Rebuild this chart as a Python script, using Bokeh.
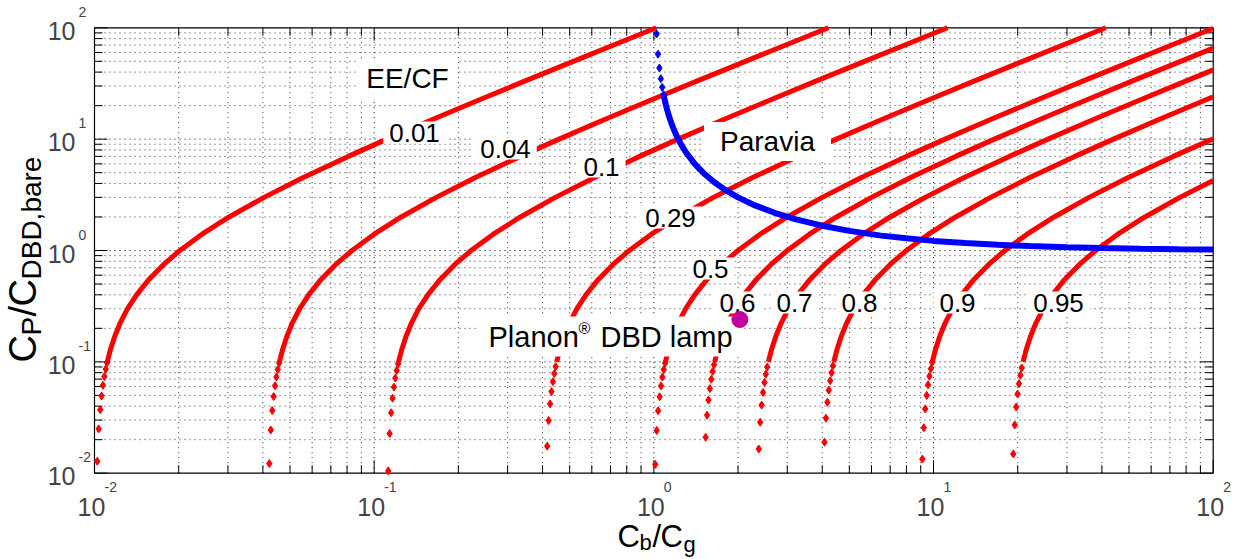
import math
from bokeh.plotting import figure
from bokeh.models import Label
from bokeh.embed import file_html
from bokeh.resources import INLINE

# ---------------- data ----------------
ee_labels = ["0.01", "0.04", "0.1", "0.29", "0.5", "0.6", "0.7", "0.8", "0.9", "0.95"]

ee001_x = [0.01023, 0.01035, 0.01048, 0.0106, 0.01072, 0.01085, 0.01097, 0.01109,
           0.01111, 0.01141, 0.01182, 0.01232, 0.01313, 0.01414, 0.01566, 0.01768, 0.0202, 0.02424,
           0.0303, 0.0404, 0.05555, 0.0808, 0.1111, 0.1616, 0.2323, 0.3434, 0.5151, 0.7676, 1.0201]
ee001_y = [0.0128, 0.025, 0.0372, 0.0494, 0.0616, 0.0738, 0.086, 0.0982,
           0.1, 0.13, 0.17, 0.22, 0.3, 0.4, 0.55, 0.75, 1, 1.4, 2, 3, 4.5, 7, 10, 15, 22, 33, 50, 75, 100]

ee004_x = [0.04218, 0.04269, 0.0432, 0.0437, 0.04421, 0.04472, 0.04523, 0.04574,
           0.04583, 0.04708, 0.04875, 0.05083, 0.05417, 0.05833, 0.06458, 0.07292, 0.08333, 0.1,
           0.125, 0.1667, 0.2292, 0.3333, 0.4583, 0.6667, 0.9583, 1.417, 2.125, 3.167, 4.208]
ee004_y = [0.0122, 0.0244, 0.0366, 0.0488, 0.061, 0.0732, 0.0854, 0.0976,
           0.1, 0.13, 0.17, 0.22, 0.3, 0.4, 0.55, 0.75, 1, 1.4, 2, 3, 4.5, 7, 10, 15, 22, 33, 50, 75, 100]

ee01_x = [0.1123, 0.1136, 0.115, 0.1163, 0.1177, 0.119, 0.1204, 0.1218,
          0.1222, 0.1256, 0.13, 0.1356, 0.1444, 0.1556, 0.1722, 0.1944, 0.2222, 0.2667,
          0.3333, 0.4444, 0.6111, 0.8889, 1.222, 1.778, 2.556, 3.778, 5.667, 8.444, 11.22]
ee01_y = [0.0105, 0.0227, 0.0349, 0.0471, 0.0593, 0.0715, 0.0837, 0.0959,
          0.1, 0.13, 0.17, 0.22, 0.3, 0.4, 0.55, 0.75, 1, 1.4, 2, 3, 4.5, 7, 10, 15, 22, 33, 50, 75, 100]

ee029_x = [0.4156, 0.4206, 0.4256, 0.4306, 0.4356, 0.4406, 0.4456,
           0.4493, 0.4616, 0.4779, 0.4983, 0.531, 0.5719, 0.6331, 0.7149, 0.817, 0.9804,
           1.2255, 1.634, 2.247, 3.268, 4.493, 6.536, 9.395, 13.89, 20.83, 31.05, 41.26]
ee029_y = [0.0175, 0.0297, 0.0419, 0.0541, 0.0663, 0.0785, 0.0907,
           0.1, 0.13, 0.17, 0.22, 0.3, 0.4, 0.55, 0.75, 1, 1.4, 2, 3, 4.5, 7, 10, 15, 22, 33, 50, 75, 100]

ee05_x = [1.012, 1.024, 1.036, 1.049, 1.061, 1.073, 1.085, 1.097,
          1.1, 1.13, 1.17, 1.22, 1.3, 1.4, 1.55, 1.75, 2, 2.4, 3, 4, 5.5, 8, 11, 16, 23, 34, 51, 76, 100]
ee05_y = [0.012, 0.0242, 0.0364, 0.0486, 0.0608, 0.073, 0.0852, 0.0974,
          0.1, 0.13, 0.17, 0.22, 0.3, 0.4, 0.55, 0.75, 1, 1.4, 2, 3, 4.5, 7, 10, 15, 22, 33, 50, 75, 99]

ee06_x = [1.532, 1.55, 1.568, 1.586, 1.605, 1.623, 1.641,
          1.65, 1.695, 1.755, 1.83, 1.95, 2.1, 2.325, 2.625, 3, 3.6, 4.5, 6, 8.25, 12, 16.5, 24,
          34.5, 51, 76.5, 100]
ee06_y = [0.021, 0.0332, 0.0454, 0.0576, 0.0698, 0.082, 0.0942,
          0.1, 0.13, 0.17, 0.22, 0.3, 0.4, 0.55, 0.75, 1, 1.4, 2, 3, 4.5, 7, 10, 15, 22, 33, 50, 65.7]

ee07_x = [2.372, 2.4, 2.429, 2.457, 2.486, 2.514, 2.543,
          2.567, 2.637, 2.73, 2.847, 3.033, 3.267, 3.617, 4.083, 4.667, 5.6, 7, 9.333, 12.83,
          18.67, 25.67, 37.33, 53.67, 79.33, 100]
ee07_y = [0.0165, 0.0287, 0.0409, 0.0531, 0.0653, 0.0775, 0.0897,
          0.1, 0.13, 0.17, 0.22, 0.3, 0.4, 0.55, 0.75, 1, 1.4, 2, 3, 4.5, 7, 10, 15, 22, 33, 41.9]

ee08_x = [4.076, 4.125, 4.174, 4.222, 4.271, 4.32, 4.369,
          4.4, 4.52, 4.68, 4.88, 5.2, 5.6, 6.2, 7, 8, 9.6, 12, 16, 22, 32, 44, 64, 92, 100]
ee08_y = [0.019, 0.0312, 0.0434, 0.0556, 0.0678, 0.08, 0.0922,
          0.1, 0.13, 0.17, 0.22, 0.3, 0.4, 0.55, 0.75, 1, 1.4, 2, 3, 4.5, 7, 10, 15, 22, 24]

ee09_x = [9.121, 9.23, 9.34, 9.45, 9.56, 9.67, 9.779, 9.889,
          9.9, 10.17, 10.53, 10.98, 11.7, 12.6, 13.95, 15.75, 18, 21.6, 27, 36, 49.5, 72, 100]
ee09_y = [0.0134, 0.0256, 0.0378, 0.05, 0.0622, 0.0744, 0.0866, 0.0988,
          0.1, 0.13, 0.17, 0.22, 0.3, 0.4, 0.55, 0.75, 1, 1.4, 2, 3, 4.5, 7, 10.1]

ee095_x = [19.28, 19.51, 19.75, 19.98, 20.21, 20.44, 20.67,
           20.9, 21.47, 22.23, 23.18, 24.7, 26.6, 29.45, 33.25, 38, 45.6, 57, 76, 100]
ee095_y = [0.0149, 0.0271, 0.0393, 0.0515, 0.0637, 0.0759, 0.0881,
           0.1, 0.13, 0.17, 0.22, 0.3, 0.4, 0.55, 0.75, 1, 1.4, 2, 3, 4.26]

paravia_x = [1.023, 1.035, 1.047, 1.059, 1.071, 1.083, 1.095, 1.11, 1.13, 1.16, 1.2, 1.25, 1.3,
             1.4, 1.5, 1.65, 1.8, 2, 2.3, 2.7, 3.2, 4, 5, 6.5, 8, 10, 13, 17, 22, 30, 40, 55, 75, 100]
paravia_y = [88, 58, 43.6, 34.9, 29.2, 25.1, 22.1, 19.2, 16.4, 13.5, 11, 9, 7.67,
             6, 5, 4.08, 3.5, 3, 2.54, 2.18, 1.91, 1.67, 1.5, 1.36, 1.29, 1.22, 1.17, 1.125, 1.095,
             1.069, 1.051, 1.037, 1.027, 1.02]

planon_x = [2.03]
planon_y = [0.24]

# axes: limits, decade ticks and their exponent labels
axis_min, axis_max = 0.01, 100
tick_values = [0.01, 0.1, 1, 10, 100]
tick_exponents = ["-2", "-1", "0", "1", "2"]
minor_multipliers = [2, 3, 4, 5, 6, 7, 8, 9]

curves_x = [ee001_x, ee004_x, ee01_x, ee029_x, ee05_x, ee06_x, ee07_x, ee08_x, ee09_x, ee095_x]
curves_y = [ee001_y, ee004_y, ee01_y, ee029_y, ee05_y, ee06_y, ee07_y, ee08_y, ee09_y, ee095_y]

# ---------------- layout (pixels of the 1234 x 559 page) ----------------
W, H = 1234, 559
BOX_L, BOX_R, BOX_T, BOX_B = 94.0, 1212.7, 27.3, 472.7
PX_DEC_X = (BOX_R - BOX_L) / 4.0
PX_DEC_Y = (BOX_B - BOX_T) / 4.0
x_start = 10 ** (-2 - BOX_L / PX_DEC_X)
x_end = 10 ** (2 + (W - BOX_R) / PX_DEC_X)
y_start = 10 ** (-2 - (H - BOX_B) / PX_DEC_Y)
y_end = 10 ** (2 + BOX_T / PX_DEC_Y)
FONT = "Liberation Sans"

p = figure(width=W, height=H, x_axis_type="log", y_axis_type="log",
           x_range=(x_start, x_end), y_range=(y_start, y_end),
           output_backend="svg", toolbar_location=None, title=None,
           min_border_left=0, min_border_right=0, min_border_top=0, min_border_bottom=0)
p.axis.visible = False
p.grid.visible = False
p.outline_line_color = None
p.background_fill_color = "white"
p.border_fill_color = "white"

# grid (dotted, at every decade and minor position)
grid_pos = []
for v in tick_values[:-1]:
    grid_pos += [m * v for m in [1] + minor_multipliers]
grid_pos.append(tick_values[-1])
maj_set = set(tick_values)
inner_min = [v for v in grid_pos[1:-1] if v not in maj_set]
inner_maj = [v for v in grid_pos[1:-1] if v in maj_set]
for pos, alpha in [(inner_min, 0.8), (inner_maj, 1.0)]:
    n = len(pos)
    p.segment(x0=pos, y0=[axis_min] * n, x1=pos, y1=[axis_max] * n,
              line_color="black", line_dash="1 4", line_alpha=alpha, line_width=1)
    p.segment(x0=[axis_min] * n, y0=pos, x1=[axis_max] * n, y1=pos,
              line_color="black", line_dash="1 4", line_alpha=alpha, line_width=1)

# ticks on all four sides (inward)
MAJ, MIN = 13, 8
for v in grid_pos:
    L = MAJ if v in maj_set else MIN
    fx = 10 ** (L / PX_DEC_X)
    fy = 10 ** (L / PX_DEC_Y)
    p.segment(x0=[v, v], y0=[axis_min, axis_max], x1=[v, v], y1=[axis_min * fy, axis_max / fy],
              line_color="black", line_width=1)
    p.segment(x0=[axis_min, axis_max], y0=[v, v], x1=[axis_min * fx, axis_max / fx], y1=[v, v],
              line_color="black", line_width=1)

# box
p.quad(left=[axis_min], right=[axis_max], bottom=[axis_min], top=[axis_max],
       fill_color=None, line_color="black", line_width=1.2)

RED = "#ff0000"
BLUE = "#0000ff"

# red EE/CF curves: sparse diamonds below 0.1, dense part as a thick line
for cx, cy in zip(curves_x, curves_y):
    dx = [x for x, y in zip(cx, cy) if y < 0.1]
    dy = [y for y in cy if y < 0.1]
    lx = [x for x, y in zip(cx, cy) if y >= 0.1]
    ly = [y for y in cy if y >= 0.1]
    p.line(lx, ly, line_color=RED, line_width=5)
    p.scatter(dx, dy, marker="diamond", size=8, fill_color=RED, line_color=RED, line_width=1)

# Paravia curve
p.line(paravia_x[5:], paravia_y[5:], line_color=BLUE, line_width=6)
p.scatter(paravia_x[:6], paravia_y[:6], marker="diamond", size=8, fill_color=BLUE, line_color=BLUE)

# Planon DBD lamp point (drawn above the label boxes)
dot = p.scatter(planon_x, planon_y, marker="circle", size=16, fill_color="#c4009c",
                line_color="#c4009c")
dot.level = "overlay"


def add_text(text, px, py, size, align="center", angle=0.0, bg=False, pad=None):
    lab = Label(x=px, y=H - py, x_units="screen", y_units="screen",
                text=text, text_font=FONT, text_font_size=f"{size}px",
                text_align=align, text_baseline="middle", angle=angle, text_color="black")
    if bg:
        lab.background_fill_color = "white"
        lab.background_fill_alpha = 1.0
        if pad is not None:
            lab.padding = pad
    p.add_layout(lab)
    return lab


# in-plot annotations (white boxes)
ann_pos = {"0.01": (414, 132), "0.04": (505, 148), "0.1": (601, 166), "0.29": (670, 217),
           "0.5": (710, 268), "0.6": (737, 302), "0.7": (794, 302), "0.8": (859, 302),
           "0.9": (957, 302), "0.95": (1058, 302)}
add_text("EE/CF", 407, 78, 28, bg=True, pad=dict(x=8, y=4))
for t in ee_labels:
    x, y = ann_pos[t]
    add_text(t, x, y, 26, bg=True, pad=dict(x=6, y=2))
add_text("Paravia", 767, 141, 28, bg=True, pad=dict(x=16, y=4))
add_text("Planon", 478, 336, 29, align="left", bg=True, pad=dict(x=10, y=4))
add_text("DBD lamp", 590, 336, 29, align="left", bg=True, pad=dict(x=10, y=4))
add_text("\u00ae", 578, 328, 16, align="left")

# tick labels (10 with a raised exponent)
for v, e in zip(tick_values, tick_exponents):
    p.add_layout(Label(x=v, y=H - 506, x_units="data", y_units="screen", x_offset=-3,
                       text="10", text_font=FONT, text_font_size="25px",
                       text_align="center", text_baseline="middle"))
    p.add_layout(Label(x=v, y=H - 486, x_units="data", y_units="screen", x_offset=10,
                       text=e, text_font=FONT, text_font_size="14px",
                       text_align="left", text_baseline="middle"))
    p.add_layout(Label(x=75, y=v, x_units="screen", y_units="data", y_offset=-3,
                       text="10", text_font=FONT, text_font_size="25px",
                       text_align="right", text_baseline="middle"))
    p.add_layout(Label(x=78, y=v, x_units="screen", y_units="data", y_offset=16,
                       text=e, text_font=FONT, text_font_size="14px",
                       text_align="left", text_baseline="middle"))

# axis titles
add_text("C", 617, 536, 31, align="left")
add_text("b", 639, 542, 22, align="left")
add_text("/", 652, 536, 31, align="left")
add_text("C", 660, 536, 31, align="left")
add_text("g", 683, 544, 22, align="left")

A = math.pi / 2
add_text("C", 22, 362, 38, align="left", angle=A)
add_text("P", 31, 335, 28, align="left", angle=A)
add_text("/", 22, 316, 38, align="left", angle=A)
add_text("C", 22, 306, 38, align="left", angle=A)
add_text("DBD,bare", 31, 279, 28, align="left", angle=A)

open("out.html", "w").write(file_html(p, INLINE))
